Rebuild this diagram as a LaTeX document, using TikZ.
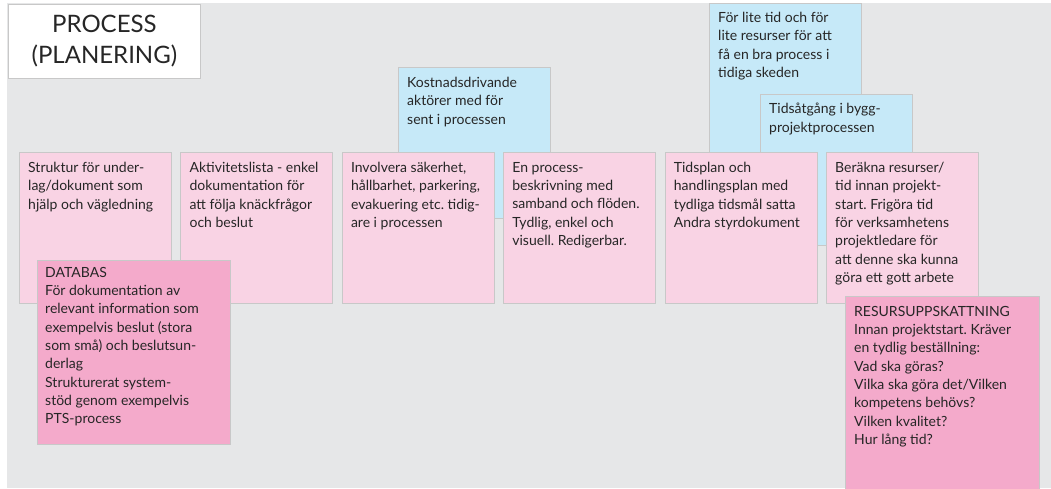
\documentclass[tikz,border=0pt]{standalone}
\usepackage{fontspec}
\setmainfont{Lato}
\usepackage{tikz}
\usetikzlibrary{positioning}

\definecolor{bggray}{HTML}{E6E7E8}
\definecolor{cardline}{HTML}{C8C8C8}
\definecolor{pinklt}{HTML}{F9D3E4}
\definecolor{pinkdk}{HTML}{F4AACB}
\definecolor{bluelt}{HTML}{C6E9F8}
\definecolor{ink}{HTML}{262626}
\frenchspacing

\begin{document}
\begin{tikzpicture}[x=1pt, y=-1pt,
  card/.style={draw=cardline, line width=0.8pt, anchor=north west, inner sep=0pt, minimum width=152pt, minimum height=151pt},
  pinkcard/.style={card, fill=pinklt},
  bluecard/.style={card, fill=bluelt},
  notecard/.style={card, fill=pinkdk, minimum width=193pt},
  txt/.style={anchor=north west, align=left, inner sep=0pt, text=ink, font=\fontsize{14}{18.3}\selectfont\frenchspacing}
]
\useasboundingbox (0,0) rectangle (1051,488);
\fill[bggray] (7,3) rectangle (1051,488);

% title
\node[card, fill=white, minimum width=192pt, minimum height=74pt, align=center,
  text=ink, font=\fontsize{24}{31}\selectfont] (title) at (8,4) {PROCESS\\(PLANERING)};

% problems (blue, behind the row)
\node[bluecard] (kost) at (398,67) {};
\node[txt] (kostt) at ([shift={(9,10)}]kost.north west) {Kostnadsdrivande\\aktörer med för\\sent i processen};
\node[bluecard] (tid) at (709,3) {};
\node[txt] (tidt) at ([shift={(9,9)}]tid.north west) {För lite tid och för\\lite resurser för att\\få en bra process i\\tidiga skeden};
\node[bluecard] (bygg) at (760,94) {};
\node[txt] (byggt) at ([shift={(9,9)}]bygg.north west) {Tidsåtgång i bygg-\\projektprocessen};

% main row
\node[pinkcard] (b1) at (19,152) {};
\node[pinkcard, right=8.6pt of b1] (b2) {};
\node[pinkcard, right=8.6pt of b2] (b3) {};
\node[pinkcard, right=8.6pt of b3] (b4) {};
\node[pinkcard, right=8.6pt of b4] (b5) {};
\node[pinkcard, right=8.6pt of b5] (b6) {};
\node[txt] (b1t) at ([shift={(9,10)}]b1.north west) {Struktur för under-\\lag/dokument som\\hjälp och vägledning};
\node[txt] (b2t) at ([shift={(9,10)}]b2.north west) {Aktivitetslista - enkel\\dokumentation för\\att följa knäckfrågor\\och beslut};
\node[txt] (b3t) at ([shift={(9,10)}]b3.north west) {Involvera säkerhet,\\hållbarhet, parkering,\\evakuering etc. tidig-\\are i processen};
\node[txt] (b4t) at ([shift={(9,10)}]b4.north west) {En process-\\beskrivning med\\samband och flöden.\\Tydlig, enkel och\\visuell. Redigerbar.};
\node[txt] (b5t) at ([shift={(9,10)}]b5.north west) {Tidsplan och\\handlingsplan med\\tydliga tidsmål satta\\Andra styrdokument};
\node[txt] (b6t) at ([shift={(9,10)}]b6.north west) {Beräkna resurser/\\tid innan projekt-\\start. Frigöra tid\\för verksamhetens\\projektledare för\\att denne ska kunna\\göra ett gott arbete};

% notes on top
\node[notecard, minimum height=184pt] (db) at (37,260) {};
\node[txt] (dbt) at ([shift={(8,7)}]db.north west) {DATABAS\\För dokumentation av\\relevant information som\\exempelvis beslut (stora\\som små) och beslutsun-\\derlag\\Strukturerat system-\\stöd genom exempelvis\\PTS-process};
\node[notecard, minimum width=194pt, minimum height=200pt] (res) at (845,296) {};
\node[txt] (rest) at ([shift={(9,10)}]res.north west) {RESURSUPPSKATTNING\\Innan projektstart. Kräver\\en tydlig beställning:\\Vad ska göras?\\Vilka ska göra det/Vilken\\kompetens behövs?\\Vilken kvalitet?\\Hur lång tid?};
\end{tikzpicture}
\end{document}
